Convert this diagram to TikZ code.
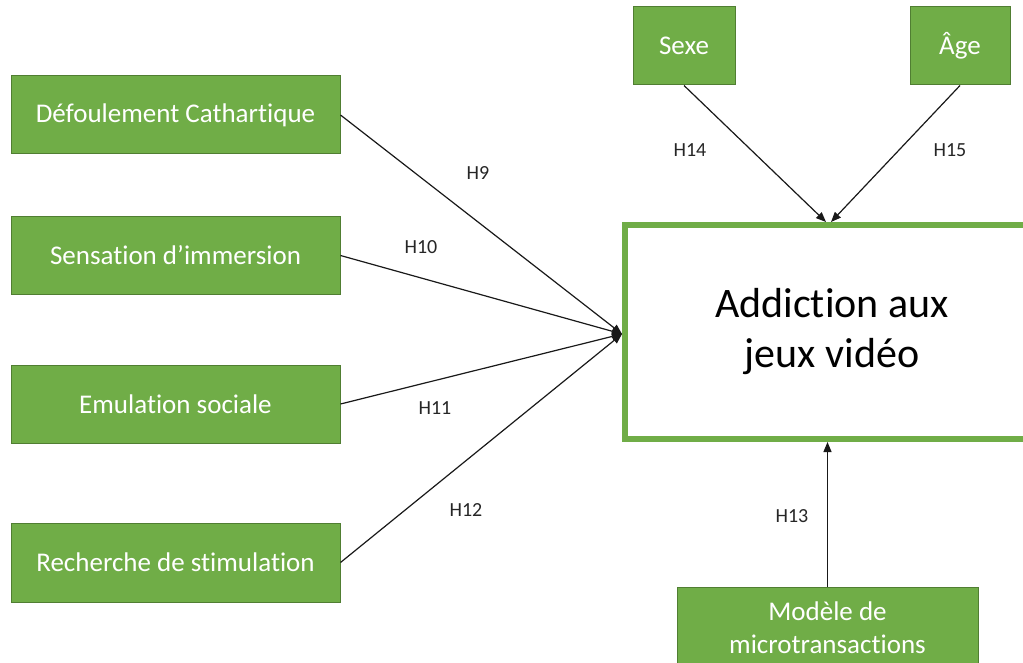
\documentclass[tikz,border=0pt]{standalone}
\usepackage{fontspec}
\setmainfont{Carlito}[Ligatures={NoCommon,NoRequired,NoContextual}]
\usetikzlibrary{arrows.meta}
\definecolor{gfill}{HTML}{70AD47}
\definecolor{gline}{HTML}{507E32}
\newcommand\Tii{t\kern0pt i}
\begin{document}
\begin{tikzpicture}[x=1pt,y=-1pt,
  gbox/.style={draw=gline, line width=1pt, fill=gfill, text=white,
    font=\fontsize{27}{33}\selectfont, align=center, inner sep=0pt},
  hyp/.style={font=\fontsize{20}{24}\selectfont, text=black!85, inner sep=0pt},
  link/.style={line width=1.2pt, draw=black!90, -{Triangle[length=10pt,width=8pt]}}
]
\clip (0,0) rectangle (1023,663);
\fill[white] (0,0) rectangle (1023,663);
% left boxes
\node[gbox, minimum width=329pt, minimum height=78pt] (def) at (175.5,115) {Défoulement Cathar\Tii que};
\node[gbox, minimum width=329pt, minimum height=77pt] (sen) at (175.5,255.5) {Sensa\Tii on d’immersion};
\node[gbox, minimum width=329pt, minimum height=78pt] (emu) at (175.5,404) {Emula\Tii on sociale};
\node[gbox, minimum width=329pt, minimum height=79pt] (rec) at (175.5,562.5) {Recherche de s\Tii mula\Tii on};
% top boxes
\node[gbox, minimum width=102pt, minimum height=78pt] (sexe) at (684,46) {Sexe};
\node[gbox, minimum width=100pt, minimum height=78pt] (age) at (960,46) {Âge};
% bottom box
\node[gbox, minimum width=301pt, minimum height=81pt] (mod) at (827.5,627.5) {Modèle de\\microtransac\Tii ons};
% main box
\node[draw=gfill, line width=6pt, fill=white, minimum width=414pt, minimum height=214pt,
  align=center, inner sep=0pt, font=\fontsize{42}{50}\selectfont] (main) at (832,332)
  {Addic\Tii on aux\\jeux vidéo};
% connectors
\coordinate (conv) at ([yshift=-2pt]main.west);
\draw[link] (def.east) -- (conv);
\draw[link] (sen.east) -- (conv);
\draw[link] (emu.east) -- (conv);
\draw[link] (rec.east) -- (conv);
\draw[link] (sexe.south) -- ([xshift=-6pt]main.north);
\draw[link] (age.south) -- ([xshift=-1pt]main.north);
\draw[link] (mod.north) -- (mod.north |- main.south);
% labels
\node[hyp] (h9) at (478,173) {H9};
\node[hyp] (h10) at (421,247) {H10};
\node[hyp] (h11) at (435,408) {H11};
\node[hyp] (h12) at (466,510) {H12};
\node[hyp] (h14) at (690,150) {H14};
\node[hyp] (h15) at (950,150) {H15};
\node[hyp] (h13) at (792,516) {H13};
\end{tikzpicture}
\end{document}
